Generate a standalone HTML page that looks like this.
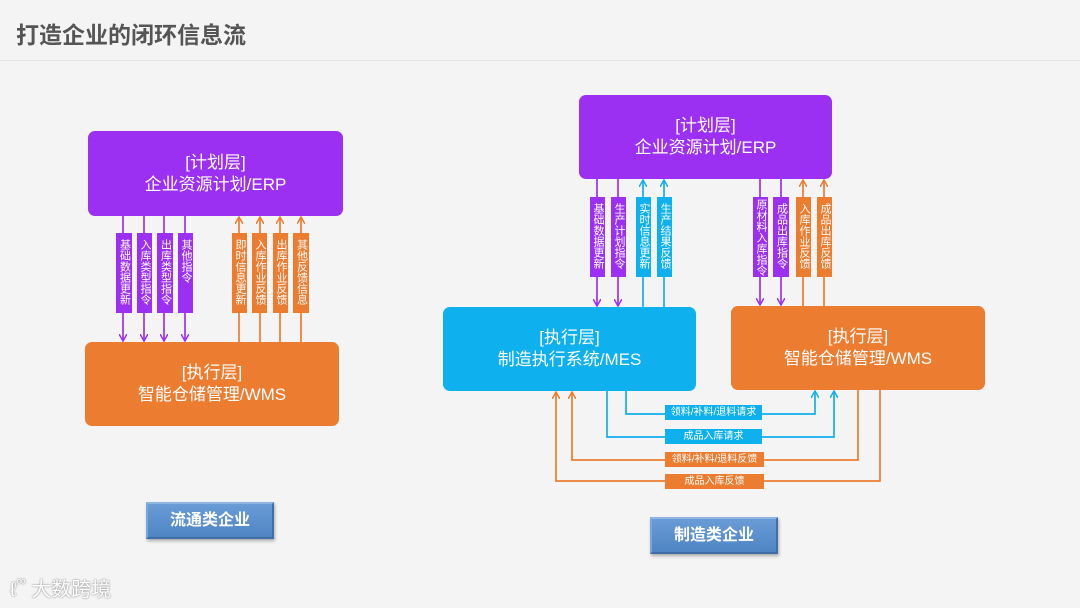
<!DOCTYPE html>
<html><head><meta charset="utf-8"><style>
*{margin:0;padding:0;box-sizing:border-box}
body{width:1080px;height:608px;background:#f4f4f4;position:relative;overflow:hidden;font-family:"Liberation Sans","Noto Sans CJK SC",sans-serif}
.a{position:absolute}
.box{position:absolute;border-radius:7px;color:#fff;text-align:center;font-size:17px;line-height:22px;display:flex;flex-direction:column;justify-content:center}
.v{position:absolute;color:#fff;font-size:11px;writing-mode:vertical-rl;text-orientation:upright;display:flex;align-items:center;padding-top:6px;line-height:15px;overflow:hidden}
.p{background:#9b30f2}.o{background:#ec7c30}.b{background:#0fb0ee}
.h{position:absolute;color:#fff;font-size:10px;text-align:center;line-height:15px;height:15px}
.btn{position:absolute;width:128px;height:37px;background:linear-gradient(#6a9cd6,#4e85c4);border:2px solid #3f6fa6;border-top-color:#8fb6e2;border-left-color:#7aa7da;color:#fff;font-weight:bold;font-size:16px;text-align:center;line-height:33px;box-shadow:1px 2px 3px rgba(0,0,0,.3)}
</style></head><body>
<div class="a" style="left:16px;top:16px;font-size:23px;font-weight:bold;color:#555">打造企业的闭环信息流</div>
<div class="a" style="left:0;top:60px;width:1080px;height:1px;background:#e6e6e6"></div>

<svg class="a" style="left:0;top:0" width="1080" height="608">
<defs>
<marker id="mp" markerWidth="8" markerHeight="8" refX="7" refY="4" orient="auto" markerUnits="userSpaceOnUse"><path d="M0,0 L7,4 L0,8" fill="none" stroke="#9b30f2" stroke-width="1.5"/></marker>
<marker id="mo" markerWidth="8" markerHeight="8" refX="7" refY="4" orient="auto" markerUnits="userSpaceOnUse"><path d="M0,0 L7,4 L0,8" fill="none" stroke="#ec7c30" stroke-width="1.5"/></marker>
<marker id="mb" markerWidth="8" markerHeight="8" refX="7" refY="4" orient="auto" markerUnits="userSpaceOnUse"><path d="M0,0 L7,4 L0,8" fill="none" stroke="#0fb0ee" stroke-width="1.5"/></marker>
</defs>
<g stroke-width="1.7" fill="none">
<g stroke="#9b30f2"><line x1="123" y1="216" x2="123" y2="341" marker-end="url(#mp)"/><line x1="144" y1="216" x2="144" y2="341" marker-end="url(#mp)"/><line x1="164" y1="216" x2="164" y2="341" marker-end="url(#mp)"/><line x1="185" y1="216" x2="185" y2="341" marker-end="url(#mp)"/></g>
<g stroke="#ec7c30"><line x1="239" y1="342" x2="239" y2="217" marker-end="url(#mo)"/><line x1="260" y1="342" x2="260" y2="217" marker-end="url(#mo)"/><line x1="280" y1="342" x2="280" y2="217" marker-end="url(#mo)"/><line x1="301" y1="342" x2="301" y2="217" marker-end="url(#mo)"/></g>
<g stroke="#9b30f2"><line x1="597" y1="179" x2="597" y2="306" marker-end="url(#mp)"/><line x1="618" y1="179" x2="618" y2="306" marker-end="url(#mp)"/><line x1="760" y1="179" x2="760" y2="305" marker-end="url(#mp)"/><line x1="781" y1="179" x2="781" y2="305" marker-end="url(#mp)"/></g>
<g stroke="#0fb0ee"><line x1="643" y1="307" x2="643" y2="180" marker-end="url(#mb)"/><line x1="664" y1="307" x2="664" y2="180" marker-end="url(#mb)"/></g>
<g stroke="#ec7c30"><line x1="803" y1="306" x2="803" y2="180" marker-end="url(#mo)"/><line x1="824" y1="306" x2="824" y2="180" marker-end="url(#mo)"/></g>
<g stroke="#0fb0ee"><polyline points="626,391 626,414 815,414 815,391" marker-end="url(#mb)"/><polyline points="607,391 607,437 834,437 834,391" marker-end="url(#mb)"/></g>
<g stroke="#ec7c30"><polyline points="858,390 858,460 572,460 572,392" marker-end="url(#mo)"/><polyline points="880,390 880,481 556,481 556,392" marker-end="url(#mo)"/></g>
</g>
</svg>

<div class="box p" style="left:88px;top:131px;width:255px;height:85px">[计划层]<br>企业资源计划/ERP</div>
<div class="box o" style="left:85px;top:342px;width:254px;height:84px">[执行层]<br>智能仓储管理/WMS</div>

<div class="v p" style="left:116px;top:233px;width:16px;height:80px">基础数据更新</div>
<div class="v p" style="left:137px;top:233px;width:15px;height:80px">入库类型指令</div>
<div class="v p" style="left:157px;top:233px;width:16px;height:80px">出库类型指令</div>
<div class="v p" style="left:178px;top:233px;width:15px;height:80px">其他指令</div>
<div class="v o" style="left:232px;top:233px;width:15px;height:80px">即时信息更新</div>
<div class="v o" style="left:252px;top:233px;width:15px;height:80px">入库作业反馈</div>
<div class="v o" style="left:273px;top:233px;width:15px;height:80px">出库作业反馈</div>
<div class="v o" style="left:293px;top:233px;width:16px;height:80px">其他反馈信息</div>

<div class="box p" style="left:579px;top:95px;width:253px;height:84px">[计划层]<br>企业资源计划/ERP</div>
<div class="box b" style="left:443px;top:307px;width:253px;height:84px">[执行层]<br>制造执行系统/MES</div>
<div class="box o" style="left:731px;top:306px;width:254px;height:84px">[执行层]<br>智能仓储管理/WMS</div>

<div class="v p" style="left:590px;top:197px;width:15px;height:80px">基础数据更新</div>
<div class="v p" style="left:611px;top:197px;width:15px;height:80px">生产计划指令</div>
<div class="v b" style="left:636px;top:197px;width:15px;height:80px">实时信息更新</div>
<div class="v b" style="left:657px;top:197px;width:15px;height:80px">生产结果反馈</div>
<div class="v p" style="left:753px;top:197px;width:15px;height:80px;padding-top:2px">原材料入库指令</div>
<div class="v p" style="left:773px;top:197px;width:16px;height:80px">成品出库指令</div>
<div class="v o" style="left:796px;top:197px;width:15px;height:80px">入库作业反馈</div>
<div class="v o" style="left:817px;top:197px;width:15px;height:80px">成品出库反馈</div>

<div class="h b" style="left:665px;top:405px;width:97px">领料/补料/退料请求</div>
<div class="h b" style="left:665px;top:429px;width:97px">成品入库请求</div>
<div class="h o" style="left:665px;top:452px;width:99px">领料/补料/退料反馈</div>
<div class="h o" style="left:665px;top:474px;width:99px">成品入库反馈</div>

<div class="btn" style="left:146px;top:502px">流通类企业</div>
<div class="btn" style="left:650px;top:517px">制造类企业</div>

<div class="a" style="left:10px;top:573px;font-size:20px;color:#fff;text-shadow:0 0 2px #999,0 0 1px #888">ℓ<span style="font-size:13px;vertical-align:top">∞</span> 大数跨境</div>
</body></html>
